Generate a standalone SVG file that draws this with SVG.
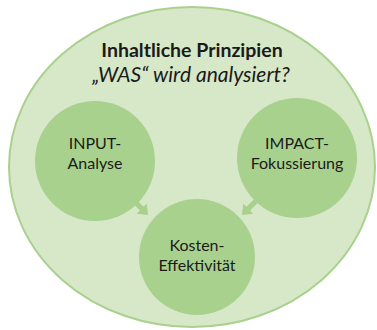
<svg xmlns="http://www.w3.org/2000/svg" width="377" height="330" viewBox="0 0 377 330">
<style>
.outer{fill:#d6e8c8;stroke:#a9d18e;stroke-width:2}
.node{fill:#a9d18e}
.arr{fill:#a9d18e}
text{font-family:Lato,"Open Sans",sans-serif;fill:#1a1a1a;text-anchor:middle}
.t1{font-size:19.5px;font-weight:bold}
.t2{font-size:21px;font-style:italic}
.lbl{font-size:16px}
</style>
<defs>
<polygon id="arrow" points="-10,-2.6 1,-2.6 1,-7 10,0 1,7 1,2.6 -10,2.6"/>
</defs>
<g id="outer">
<ellipse class="outer" cx="192" cy="167" rx="183" ry="160"/>
<text class="t1" x="192" y="57">Inhaltliche Prinzipien</text>
<text class="t2" x="191" y="82">„WAS“ wird analysiert?</text>
</g>
<g id="input">
<circle class="node" cx="95" cy="161" r="60"/>
<text class="lbl" x="95" y="149">INPUT-</text>
<text class="lbl" x="95" y="169">Analyse</text>
</g>
<g id="impact">
<circle class="node" cx="297" cy="158" r="60"/>
<text class="lbl" x="297" y="149">IMPACT-</text>
<text class="lbl" x="297" y="169">Fokussierung</text>
</g>
<g id="kosten">
<circle class="node" cx="197" cy="257" r="58"/>
<text class="lbl" x="197" y="251">Kosten-</text>
<text class="lbl" x="197" y="271">Effektivität</text>
</g>
<g id="connectors">
<use href="#arrow" class="arr" transform="translate(141,208) rotate(45)"/>
<use href="#arrow" class="arr" transform="translate(249,208) rotate(135)"/>
</g>
</svg>
